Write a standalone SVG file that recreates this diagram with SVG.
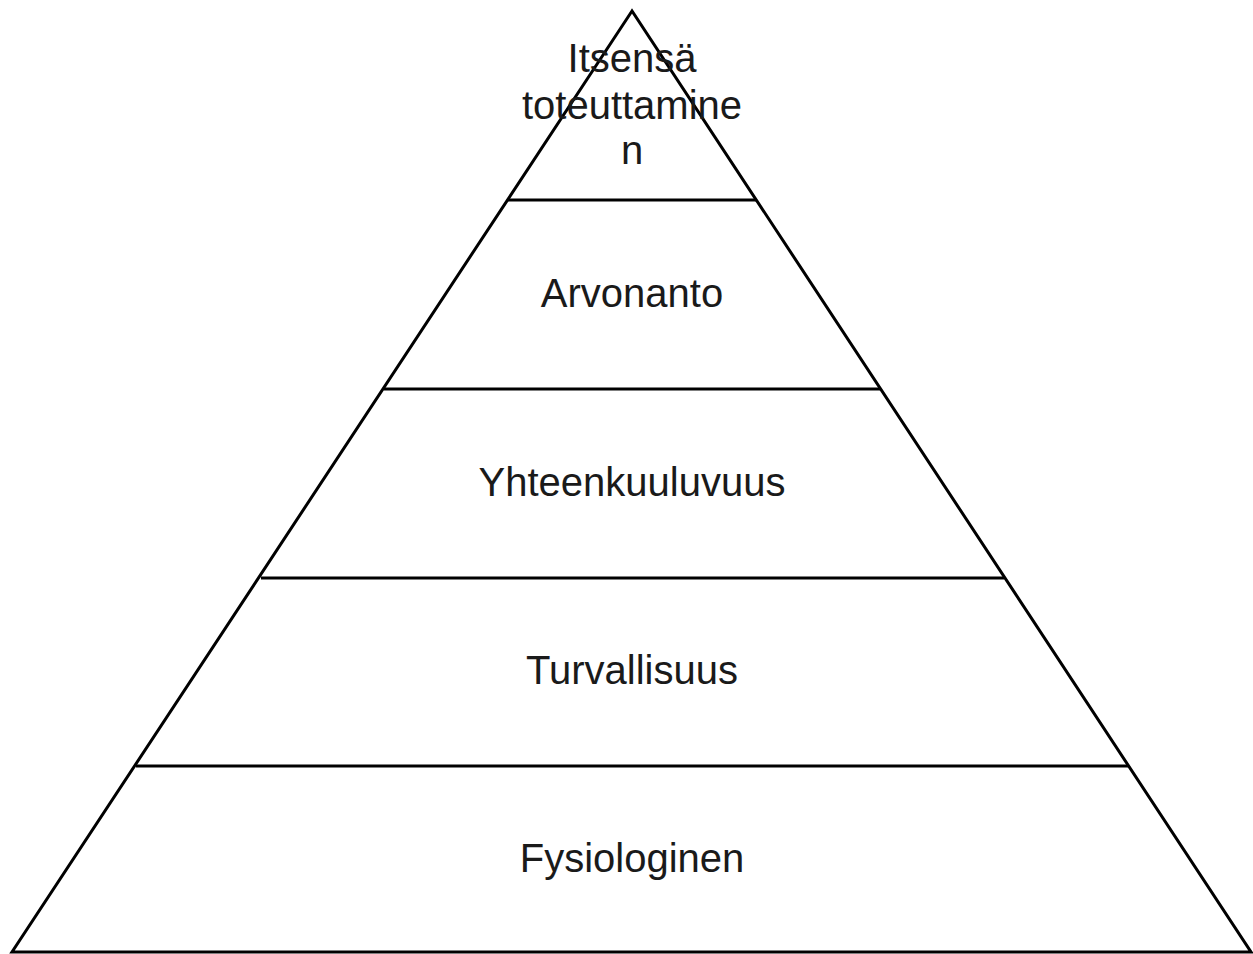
<svg xmlns="http://www.w3.org/2000/svg" width="1253" height="954" viewBox="0 0 1253 954">
<style>
.edge{fill:none;stroke:#000;stroke-width:3;stroke-linejoin:miter}
.lbl{font-family:"Liberation Sans",Arial,sans-serif;font-size:40px;fill:#1a1a1a;text-anchor:middle}
</style>
<rect width="1253" height="954" fill="#fff"/>
<g id="connectors">
<polygon class="edge" points="632,11 12,952 1251,952"/>
<line class="edge" x1="508" y1="200" x2="756" y2="200"/>
<line class="edge" x1="384" y1="389" x2="880" y2="389"/>
<line class="edge" x1="261" y1="578" x2="1004" y2="578"/>
<line class="edge" x1="136" y1="766" x2="1128" y2="766"/>
</g>
<g id="level5"><text class="lbl" x="632" y="72">Itsensä</text><text class="lbl" x="632" y="119">toteuttamine</text><text class="lbl" x="632" y="164">n</text></g>
<g id="level4"><text class="lbl" x="632" y="307">Arvonanto</text></g>
<g id="level3"><text class="lbl" x="632" y="496">Yhteenkuuluvuus</text></g>
<g id="level2"><text class="lbl" x="632" y="684">Turvallisuus</text></g>
<g id="level1"><text class="lbl" x="632" y="872">Fysiologinen</text></g>
</svg>
